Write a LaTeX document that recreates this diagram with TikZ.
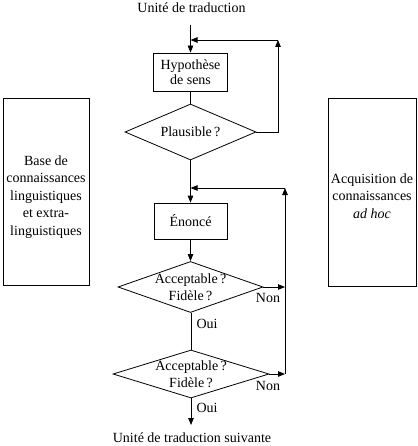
\documentclass[tikz,border=0pt]{standalone}
\usepackage{fontspec}
\setmainfont{Liberation Serif}
\usetikzlibrary{shapes.geometric,arrows.meta}
\begin{document}
\begin{tikzpicture}[x=1pt,y=-1pt,
  every node/.style={font=\fontsize{14}{16.5}\selectfont},
  boxn/.style={draw,line width=0.8pt,inner sep=0pt,align=center},
  dia/.style={draw,line width=0.8pt,diamond,inner sep=0pt},
  txt/.style={inner sep=0pt,align=center},
  ln/.style={line width=0.8pt},
  arr/.style={line width=0.8pt,-{Triangle[length=7pt,width=5.5pt]}}]
\useasboundingbox (0,0) rectangle (417,446);
% texts
\node[txt] (top) at (191.5,8) {Unité de traduction};
\node[txt] (bot) at (192,438) {Unité de traduction suivante};
% boxes
\node[boxn,minimum width=74pt,minimum height=38pt] (hyp) at (190.5,72) {Hypothèse\\[-1pt]de sens};
\node[dia,minimum width=131pt,minimum height=56pt,aspect=2.34,
  label={[txt]center:Plausible\,?}] (pl) at (190.5,132) {};
\node[boxn,minimum width=73pt,minimum height=36pt] (en) at (190.5,221) {Énoncé};
\node[dia,minimum width=145pt,minimum height=51pt,aspect=2.84,
  label={[txt]center:{Acceptable\,?\\Fidèle\,?}}] (d2) at (190.5,287) {};
\node[dia,minimum width=156pt,minimum height=48pt,aspect=3.25,
  label={[txt]center:{Acceptable\,?\\Fidèle\,?}}] (d3) at (191,374) {};
% side boxes
\node[boxn,minimum width=86pt,minimum height=187pt] (kb) at (46,191.5) {};
\node[txt] (kbt) at (46,197) {Base de\\[1pt]connaissances\\[1pt]linguistiques\\[1pt]et extra-\\[1pt]linguistiques};
\node[boxn,minimum width=88pt,minimum height=188pt] (aq) at (372,192) {};
\node[txt] (aqt) at (372,196) {Acquisition de\\[1pt]connaissances\\[1pt]\textit{ad hoc}};
% coordinates
\coordinate (s0) at (190.5,25);
\coordinate (j1) at (190.5,40);
\coordinate (c1) at (278,40);
\coordinate (j2) at (190.5,188);
\coordinate (c2) at (285,188);
\coordinate (r2) at (285,287);
\coordinate (r3) at (285,374);
\coordinate (e3) at (191,425);
% main flow
\draw[arr] (s0) -- (hyp.north);
\draw[ln] (hyp.south) -- (pl.north);
\draw[arr] (pl.south) -- (en.north);
\draw[arr] (en.south) -- (d2.north);
\draw[ln] (d2.south) -- (d3.south |- d2.south) -- (d3.north);
\draw[arr] (d3.south) -- (e3);
% feedback 1
\draw[arr] (pl.east) -| (c1);
\draw[arr] (c1) -- (j1);
% feedback 2
\draw[arr] (d2.east) -- (r2);
\draw[arr] (d3.east) -- (r3);
\draw[arr] (r3) -- (c2);
\draw[arr] (c2) -- (j2);
% labels
\node[txt] (oui1) at (207,324) {Oui};
\node[txt] (oui2) at (207,408) {Oui};
\node[txt] (non1) at (268,298) {Non};
\node[txt] (non2) at (268,386) {Non};
\end{tikzpicture}
\end{document}
